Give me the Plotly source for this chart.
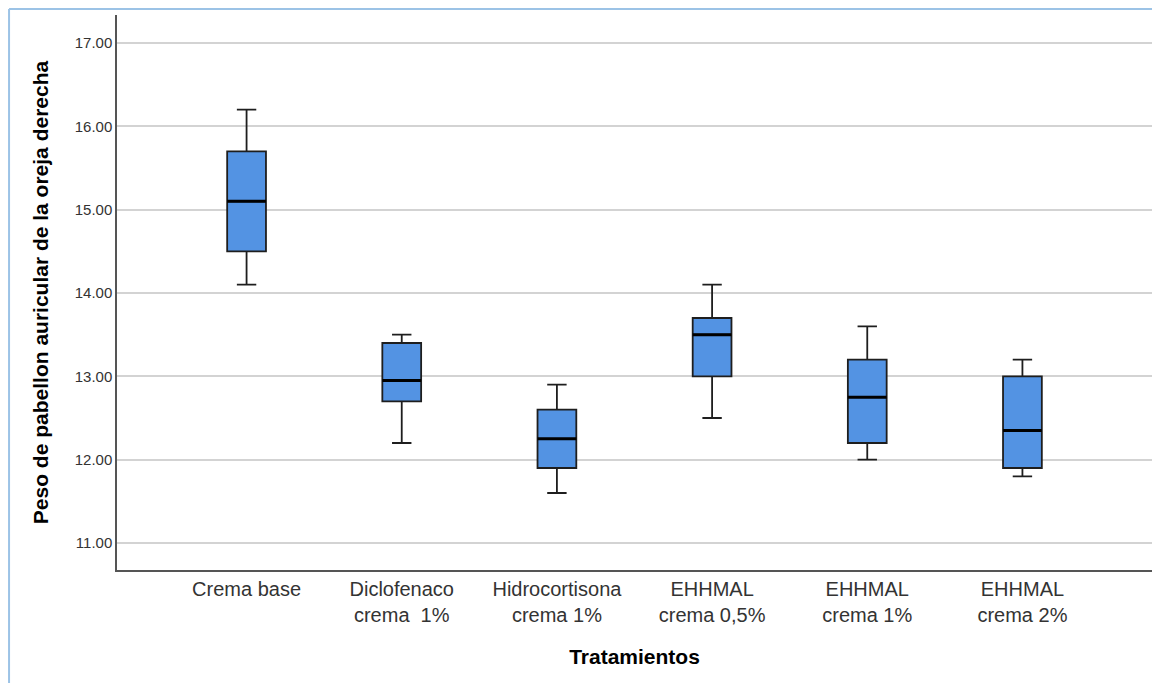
import plotly.graph_objects as go

categories = ["Crema base", "Diclofenaco<br>crema  1%", "Hidrocortisona<br>crema 1%",
              "EHHMAL<br>crema 0,5%", "EHHMAL<br>crema 1%", "EHHMAL<br>crema 2%"]
lower_whisker = [14.1, 12.2, 11.6, 12.5, 12.0, 11.8]
q1_values = [14.5, 12.7, 11.9, 13.0, 12.2, 11.9]
median_values = [15.1, 12.95, 12.25, 13.5, 12.75, 12.35]
q3_values = [15.7, 13.4, 12.6, 13.7, 13.2, 13.0]
upper_whisker = [16.2, 13.5, 12.9, 14.1, 13.6, 13.2]
y_ticks = [11, 12, 13, 14, 15, 16, 17]

fig = go.Figure()
fig.add_trace(go.Box(
    x=categories, q1=q1_values, median=median_values, q3=q3_values,
    lowerfence=lower_whisker, upperfence=upper_whisker,
    fillcolor="#5393E3", line=dict(color="#1e1e1e", width=1.8),
    width=0.25, whiskerwidth=0.5, boxpoints=False, showlegend=False,
    hoverinfo="skip",
))
fig.add_trace(go.Box(
    x=categories, q1=median_values, median=median_values, q3=median_values,
    lowerfence=median_values, upperfence=median_values,
    fillcolor="rgba(0,0,0,0)", line=dict(color="#000000", width=3),
    width=0.25, whiskerwidth=0, boxpoints=False, showlegend=False,
    hoverinfo="skip",
))

fig.update_layout(
    width=1152, height=675,
    margin=dict(l=109, r=8, t=7, b=113),
    paper_bgcolor="white", plot_bgcolor="white",
    font=dict(family="Liberation Sans, Arial, sans-serif", color="#333333"),
    xaxis=dict(
        type="category", range=[-0.835, 5.835],
        showgrid=False, showline=True, linecolor="#555555", linewidth=1.5,
        ticks="", tickfont=dict(size=20, color="#333333"),
        title=dict(text="<b>Tratamientos</b>", font=dict(size=21, color="#000000"), standoff=25),
    ),
    yaxis=dict(
        range=[10.676, 17.336], tickvals=y_ticks, tickformat=".2f",
        showgrid=True, gridcolor="#d3d3d3", gridwidth=1.5,
        showline=True, linecolor="#555555", linewidth=1.5, zeroline=False,
        ticks="", tickfont=dict(size=15, color="#333333"),
        title=dict(text="<b>Peso de pabellon auricular de la oreja derecha</b>",
                   font=dict(size=21, color="#000000"), standoff=20),
    ),
    shapes=[
        dict(type="line", xref="paper", yref="paper", x0=-0.1043, x1=1.2, y0=1.0108, y1=1.0108,
             line=dict(color="#9cc3e6", width=2)),
        dict(type="line", xref="paper", yref="paper", x0=-0.1043, x1=-0.1043, y0=1.0108, y1=-0.3,
             line=dict(color="#9cc3e6", width=2)),
    ],
)

fig.write_html("out.html")
